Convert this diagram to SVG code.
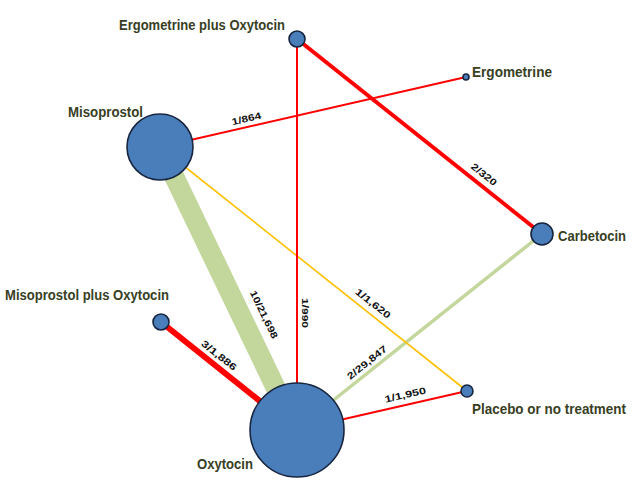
<svg xmlns="http://www.w3.org/2000/svg" width="640" height="480" viewBox="0 0 640 480">
<style>
.node{fill:#4a7ebb;stroke:#17253f;stroke-width:1.6}
.lbl{font-family:"Liberation Sans",Arial,sans-serif;font-weight:bold;font-size:14.5px;fill:#38401f}
.el{font-family:"Liberation Sans",Arial,sans-serif;font-weight:bold;font-size:9.5px;fill:#111;text-anchor:middle}
.red{stroke:#ff0000;fill:none}
.grn{stroke:#c3d69b;fill:none}
.yel{stroke:#ffc000;fill:none}
</style>
<rect width="640" height="480" fill="#fff"/>
<g id="connectors">
<line class="grn" x1="160" y1="147" x2="296" y2="430" stroke-width="20"/>
<line class="grn" x1="542" y1="234" x2="296" y2="430" stroke-width="3.5"/>
<line class="yel" x1="160" y1="147" x2="467" y2="391" stroke-width="1.6"/>
<line class="red" x1="297" y1="39" x2="297" y2="430" stroke-width="2"/>
<line class="red" x1="297" y1="39" x2="542" y2="234" stroke-width="4"/>
<line class="red" x1="160" y1="147" x2="466" y2="77" stroke-width="2"/>
<line class="red" x1="161" y1="322" x2="296" y2="430" stroke-width="6"/>
<line class="red" x1="296" y1="430" x2="467" y2="391" stroke-width="2"/>
<text class="el" transform="translate(247,122) rotate(-13)" textLength="30" lengthAdjust="spacingAndGlyphs">1/864</text>
<text class="el" transform="translate(482,177) rotate(38.5)" textLength="30" lengthAdjust="spacingAndGlyphs">2/320</text>
<text class="el" transform="translate(261,316) rotate(64.3)" textLength="52" lengthAdjust="spacingAndGlyphs">10/21,698</text>
<text class="el" transform="translate(302,313) rotate(90)" textLength="30" lengthAdjust="spacingAndGlyphs">1/990</text>
<text class="el" transform="translate(217,358) rotate(38.7)" textLength="42" lengthAdjust="spacingAndGlyphs">3/1,886</text>
<text class="el" transform="translate(371,306) rotate(38.5)" textLength="42" lengthAdjust="spacingAndGlyphs">1/1,620</text>
<text class="el" transform="translate(369,365) rotate(-38.6)" textLength="48" lengthAdjust="spacingAndGlyphs">2/29,847</text>
<text class="el" transform="translate(406,398) rotate(-12.8)" textLength="42" lengthAdjust="spacingAndGlyphs">1/1,950</text>
</g>
<g id="n-ergooxy"><circle class="node" cx="297" cy="39" r="8"/><text class="lbl" x="119" y="30" textLength="166" lengthAdjust="spacingAndGlyphs">Ergometrine plus Oxytocin</text></g>
<g id="n-ergo"><circle class="node" cx="466" cy="77" r="3"/><text class="lbl" x="472" y="77" textLength="80" lengthAdjust="spacingAndGlyphs">Ergometrine</text></g>
<g id="n-miso"><circle class="node" cx="160" cy="147" r="33"/><text class="lbl" x="68" y="117" textLength="75" lengthAdjust="spacingAndGlyphs">Misoprostol</text></g>
<g id="n-carb"><circle class="node" cx="542" cy="234" r="11"/><text class="lbl" x="558" y="241" textLength="68" lengthAdjust="spacingAndGlyphs">Carbetocin</text></g>
<g id="n-misooxy"><circle class="node" cx="161" cy="322" r="8"/><text class="lbl" x="5" y="300" textLength="164" lengthAdjust="spacingAndGlyphs">Misoprostol plus Oxytocin</text></g>
<g id="n-oxy"><circle class="node" cx="297" cy="430" r="47"/><text class="lbl" x="197" y="469" textLength="56" lengthAdjust="spacingAndGlyphs">Oxytocin</text></g>
<g id="n-placebo"><circle class="node" cx="467" cy="391" r="6"/><text class="lbl" x="472" y="414" textLength="154" lengthAdjust="spacingAndGlyphs">Placebo or no treatment</text></g>
</svg>
